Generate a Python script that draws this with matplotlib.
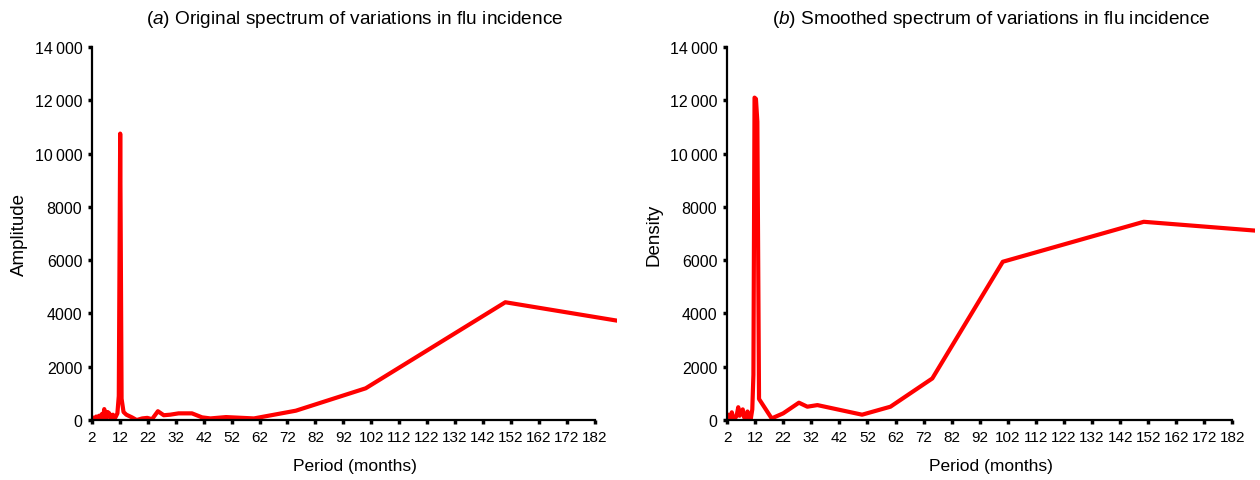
import matplotlib
matplotlib.use("Agg")
import matplotlib.pyplot as plt
from matplotlib.ticker import FixedLocator, FixedFormatter

plt.rcParams["font.family"] = ["Liberation Sans", "DejaVu Sans"]
plt.rcParams["mathtext.fontset"] = "custom"
plt.rcParams["mathtext.it"] = "Liberation Sans:italic"
plt.rcParams["mathtext.rm"] = "Liberation Sans"

# ---------------------------------------------------------------------------
# Data
# ---------------------------------------------------------------------------

# (a) original spectrum
period_a = [2, 2.5, 3, 3.5, 4, 4.5, 5, 5.5, 6, 6.4, 6.8, 7.2, 7.6, 8.2, 8.6,
            9, 9.5, 10, 10.5, 11.1, 11.6, 12.1, 12.6, 13.3, 14.3, 16.3, 18,
            20, 21.8, 23.5, 25.6, 27.7, 30, 33, 37.8, 41.4, 44.4, 50, 60,
            75, 100, 150, 190]
amplitude = [20, 90, 40, 130, 60, 160, 90, 220, 100, 410, 150, 50, 300, 250,
             100, 60, 200, 40, 120, 250, 900, 10750, 800, 300, 200, 100, 0,
             60, 80, 30, 330, 180, 200, 250, 250, 100, 60, 110, 60,
             350, 1190, 4420, 3730]

# (b) smoothed spectrum
period_b = [2, 2.5, 3, 3.4, 3.7, 4.2, 4.8, 5.4, 6.0, 6.5, 7.0, 7.6, 8.1,
            8.5, 9.0, 9.3, 9.8, 10.4, 11.0, 11.4, 11.8, 12.3, 12.8, 13.4,
            17.9, 22, 27.6, 30.6, 34.2, 50.1, 60.2, 75.1, 100.2, 150.4, 190]
density = [50, 200, 80, 150, 290, 100, 60, 150, 480, 160, 250, 400, 100,
           150, 80, 320, 60, 0, 400, 1700, 12100, 12050, 11200, 790,
           60, 250, 650, 500, 560, 200, 500, 1560, 5940, 7440, 7110]

x_ticks = list(range(2, 183, 10))
y_ticks = [0, 2000, 4000, 6000, 8000, 10000, 12000, 14000]
y_labels = ["0", "2000", "4000", "6000", "8000", "10\u2009000", "12\u2009000", "14\u2009000"]

titles = [r"($\mathit{a}$) Original spectrum of variations in flu incidence",
          r"($\mathit{b}$) Smoothed spectrum of variations in flu incidence"]
ylabels = ["Amplitude", "Density"]


def style_axis(ax, title, ylabel):
    ax.set_xlim(2, 190)
    ax.set_ylim(0, 14000)
    for side in ("top", "right"):
        ax.spines[side].set_visible(False)
    for side in ("left", "bottom"):
        ax.spines[side].set_linewidth(1.6)
    ax.spines["bottom"].set_bounds(2, 182)
    ax.xaxis.set_major_locator(FixedLocator(x_ticks))
    ax.xaxis.set_major_formatter(FixedFormatter([str(t) for t in x_ticks]))
    ax.yaxis.set_major_locator(FixedLocator(y_ticks))
    ax.yaxis.set_major_formatter(FixedFormatter(y_labels))
    ax.tick_params(direction="out", length=3, width=2.5, pad=4)
    ax.tick_params(axis="x", labelsize=11)
    ax.tick_params(axis="y", labelsize=11.5)
    ax.text(0.5, 1.065, title, transform=ax.transAxes, ha="center", va="baseline",
            fontsize=13.7)
    ax.set_xlabel("Period (months)", fontsize=12.5, labelpad=10)
    ax.set_ylabel(ylabel, fontsize=13.5, labelpad=5)


fig = plt.figure(figsize=(12.6, 4.81), dpi=100)
ax_a = fig.add_axes([0.073, 0.1247, 0.4167, 0.7755])
ax_b = fig.add_axes([0.577, 0.1247, 0.419, 0.7755])

ax_a.plot(period_a, amplitude, color="#ff0000", lw=3, solid_joinstyle="round")
ax_b.plot(period_b, density, color="#ff0000", lw=3, solid_joinstyle="round")

style_axis(ax_a, titles[0], ylabels[0])
style_axis(ax_b, titles[1], ylabels[1])

fig.savefig("out.png", dpi=100)
